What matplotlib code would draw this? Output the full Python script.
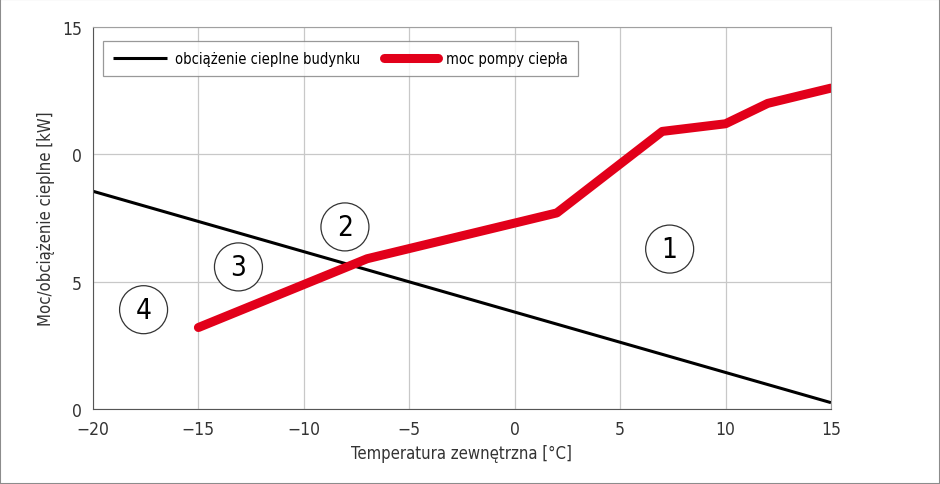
import matplotlib
matplotlib.use('Agg')
import matplotlib.pyplot as plt
from matplotlib.patches import Rectangle

plt.rcParams['font.family'] = ['DejaVu Sans']
plt.rcParams['font.stretch'] = 'condensed'

# building heat load (straight line)
load_temp = [-20, 15]
load_kw = [8.55, 0.25]

# heat pump output
pump_temp = [-15, -7, 2, 7, 10, 12, 15]
pump_kw = [3.2, 5.9, 7.7, 10.9, 11.2, 12.0, 12.6]

x_ticks = [-20, -15, -10, -5, 0, 5, 10, 15]
x_labels = ['\u221220', '\u221215', '\u221210', '\u22125', '0', '5', '10', '15']
y_ticks = [0, 5, 10, 15]
y_labels = ['0', '5', '0', '15']

# numbered circles: label, temperature, kW
zone_labels = ['1', '2', '3', '4']
zone_x = [7.35, -8.05, -13.1, -17.6]
zone_y = [6.28, 7.15, 5.58, 3.9]

fig = plt.figure(figsize=(9.4, 4.85), dpi=100)
fig.patches.append(Rectangle((0, 0), 1, 1, transform=fig.transFigure, fill=False,
                             edgecolor='#8c8c8c', linewidth=1.5))
ax = fig.add_axes([0.0989, 0.1546, 0.7851, 0.7877])

ax.plot(load_temp, load_kw, color='black', linewidth=2.2, label='obciążenie cieplne budynku',
        solid_capstyle='butt')
ax.plot(pump_temp, pump_kw, color='#e2001a', linewidth=6.5, label='moc pompy ciepła',
        solid_capstyle='round', solid_joinstyle='round')

for lab, zx, zy in zip(zone_labels, zone_x, zone_y):
    ax.text(zx, zy, lab, fontsize=20, ha='center', va='center', color='black',
            bbox=dict(boxstyle='circle,pad=0.36', facecolor='white', edgecolor='#333333', linewidth=0.9))

ax.set_xlim(-20, 15)
ax.set_ylim(0, 15)
ax.set_xticks(x_ticks)
ax.set_xticklabels(x_labels)
ax.set_yticks(y_ticks)
ax.set_yticklabels(y_labels)
ax.tick_params(length=0, labelsize=12.5, colors='#333333', pad=8)
ax.grid(True, color='#c8c8c8', linewidth=0.9)
ax.set_axisbelow(True)
for side in ['top', 'right']:
    ax.spines[side].set_color('#a0a0a0')
for side in ['left', 'bottom']:
    ax.spines[side].set_color('#555555')

ax.set_xlabel('Temperatura zewnętrzna [°C]', fontsize=12, color='#333333', labelpad=4)
ax.set_ylabel('Moc/obciążenie cieplne [kW]', fontsize=12, color='#333333', labelpad=5)

leg = ax.legend(loc='upper left', ncol=2, fontsize=10.5, frameon=True, fancybox=False,
                bbox_to_anchor=(0.0136, 0.964), borderaxespad=0, handlelength=3.7,
                handletextpad=0.55, columnspacing=1.6, borderpad=0.7, edgecolor='#808080')
leg.get_frame().set_linewidth(0.9)

plt.savefig('out.png', dpi=100)
